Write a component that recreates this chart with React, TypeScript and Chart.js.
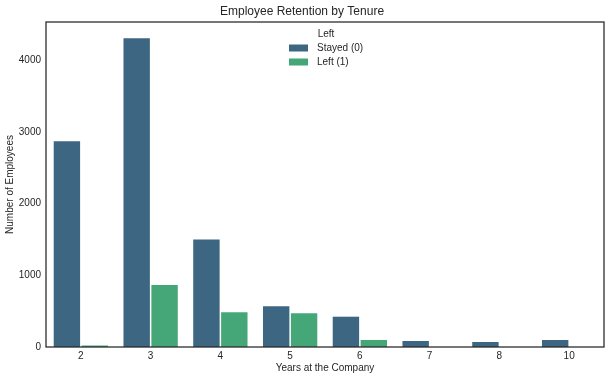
import React, { useEffect, useRef } from "react";
import { Chart, registerables } from "chart.js";

Chart.register(...registerables);

const categories = ["2", "3", "4", "5", "6", "7", "8", "10"];
const stayedValues = [2879, 4316, 1510, 580, 433, 94, 81, 107];
const leftValues = [31, 874, 495, 482, 109, 0, 0, 0];
const seriesLabels = ["Stayed (0)", "Left (1)"];
const yTicks = [0, 1000, 2000, 3000, 4000];

const FONT = "'Liberation Sans', Arial, sans-serif";
const TEXT = "#262626";
const C_STAYED = "#3d6682";
const C_LEFT = "#45a778";

const framePlugin = {
  id: "frameAndLegend",
  afterDraw(chart: any) {
    const { ctx, chartArea } = chart;
    const { left, right, top, bottom } = chartArea;
    ctx.save();
    ctx.strokeStyle = TEXT;
    ctx.lineWidth = 1.25;
    ctx.strokeRect(left, top, right - left, bottom - top);

    // legend
    ctx.fillStyle = TEXT;
    ctx.font = `10px ${FONT}`;
    ctx.textBaseline = "middle";
    ctx.textAlign = "center";
    ctx.fillText("Left", 326, 34);
    const colors = [C_STAYED, C_LEFT];
    const ys = [48, 62];
    ctx.textAlign = "left";
    for (let i = 0; i < seriesLabels.length; i++) {
      ctx.fillStyle = colors[i];
      ctx.fillRect(289, ys[i] - 3.5, 19, 7);
      ctx.fillStyle = TEXT;
      ctx.fillText(seriesLabels[i], 317, ys[i]);
    }
    ctx.restore();
  },
};

export default function App() {
  const ref = useRef<HTMLCanvasElement>(null);
  useEffect(() => {
    document.body.style.margin = "0";
    const chart = new Chart(ref.current as HTMLCanvasElement, {
      type: "bar",
      data: {
        labels: categories,
        datasets: [
          {
            label: seriesLabels[0],
            data: stayedValues,
            backgroundColor: C_STAYED,
            borderColor: "#ffffff",
            borderWidth: 0.75,
            categoryPercentage: 0.8,
            barPercentage: 1.0,
          },
          {
            label: seriesLabels[1],
            data: leftValues,
            backgroundColor: C_LEFT,
            borderColor: "#ffffff",
            borderWidth: 0.75,
            categoryPercentage: 0.8,
            barPercentage: 1.0,
          },
        ],
      },
      options: {
        responsive: false,
        animation: false,
        layout: { padding: { left: 0, right: 7, top: 0, bottom: 0 } },
        plugins: {
          legend: { display: false },
          tooltip: { enabled: false },
          title: {
            display: true,
            text: "Employee Retention by Tenure",
            color: TEXT,
            font: { family: FONT, size: 12, weight: "normal" },
            padding: { top: 4, bottom: 3.6 },
          },
        },
        scales: {
          x: {
            grid: { display: false, drawTicks: false },
            border: { display: false },
            ticks: {
              color: TEXT,
              font: { family: FONT, size: 10 },
              padding: 3,
              maxRotation: 0,
            },
            title: {
              display: true,
              text: "Years at the Company",
              color: TEXT,
              font: { family: FONT, size: 10 },
              padding: { top: 0, bottom: 6 },
            },
            afterFit: (s: any) => {
              s.height = 33;
            },
          },
          y: {
            min: 0,
            max: 4532,
            grid: { display: false, drawTicks: false },
            border: { display: false },
            afterBuildTicks: (s: any) => {
              s.ticks = yTicks.map((v) => ({ value: v }));
            },
            ticks: {
              color: TEXT,
              font: { family: FONT, size: 10 },
              padding: 5,
              includeBounds: false,
              callback: (v: any) => String(v),
            },
            title: {
              display: true,
              text: "Number of Employees",
              color: TEXT,
              font: { family: FONT, size: 10 },
              padding: { top: 4, bottom: 0 },
            },
            afterFit: (s: any) => {
              s.width = 46;
            },
          },
        },
      },
      plugins: [framePlugin],
    });
    return () => chart.destroy();
  }, []);
  return (
    <div style={{ width: 611, height: 380 }}>
      <canvas ref={ref} width={611} height={380} />
    </div>
  );
}
